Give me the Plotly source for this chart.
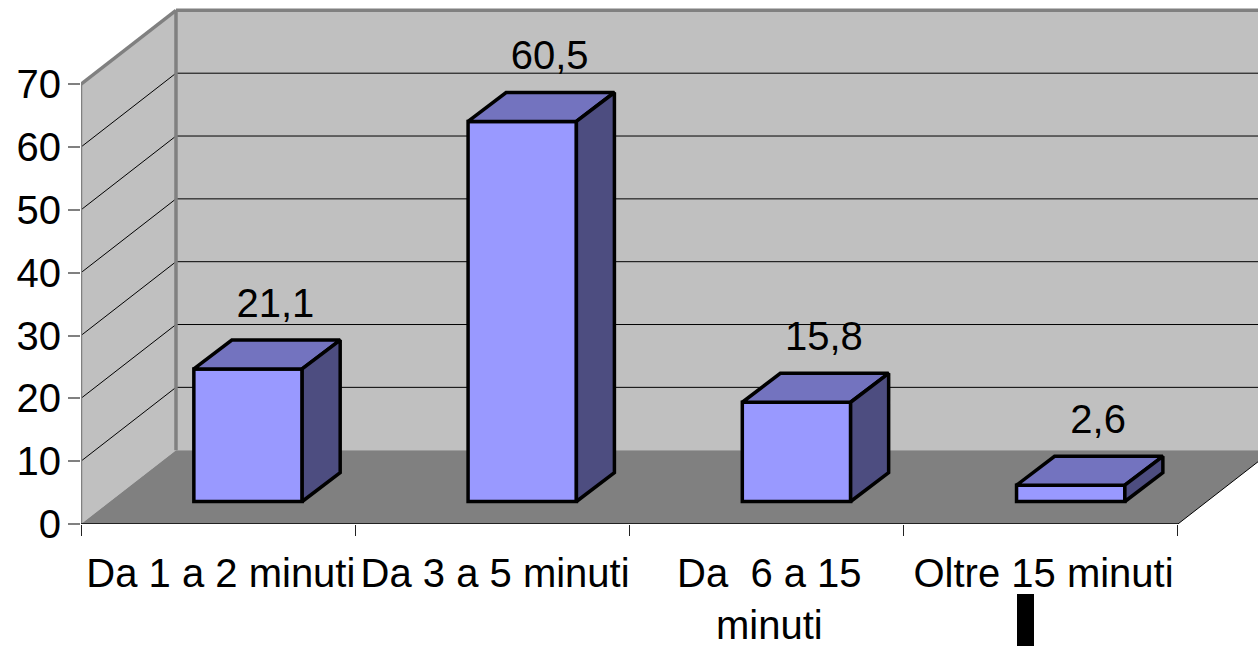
import plotly.graph_objects as go

categories = ["Da 1 a 2 minuti", "Da 3 a 5 minuti", "Da\u00a0 6 a 15<br>minuti", "Oltre 15 minuti"]
values = [21.1, 60.5, 15.8, 2.6]
value_labels = ["21,1", "60,5", "15,8", "2,6"]
y_ticks = [0, 10, 20, 30, 40, 50, 60, 70]

# oblique projection, in axis units
WALL_DX, WALL_DY = 0.3464, 11.75
BAR_DX, BAR_DY = 0.1386, 4.6
BAR_LIFT = 3.58
BAR_SHIFT = 0.609
BAR_W = 0.395
LABEL_DX, LABEL_DY = 0.10, 9.9
FONT = dict(family="Liberation Sans, Arial, sans-serif", size=40, color="black")
WALL, FLOOR, EDGE = "#c0c0c0", "#808080", "#808080"
FRONT, TOP, SIDE = "#9999ff", "#7373bf", "#4d4d80"
n = len(categories)
ymax_back = max(y_ticks)
x_max, y_max = 4.292, 83.4


def poly(pts, fill, line="rgba(0,0,0,0)", width=0):
    path = "M " + " L ".join(f"{x},{y}" for x, y in pts) + " Z"
    return dict(type="path", path=path, xref="x", yref="y", layer="below",
                fillcolor=fill, line=dict(color=line, width=width))


def seg(x0, y0, x1, y1, color, width, layer="below"):
    return dict(type="line", x0=x0, y0=y0, x1=x1, y1=y1, xref="x", yref="y",
                layer=layer, line=dict(color=color, width=width))


shapes = [
    poly([(WALL_DX, WALL_DY), (n + WALL_DX, WALL_DY), (n + WALL_DX, ymax_back + WALL_DY), (WALL_DX, ymax_back + WALL_DY)], WALL),
    poly([(0, 0), (WALL_DX, WALL_DY), (WALL_DX, ymax_back + WALL_DY), (0, ymax_back)], WALL),
    poly([(0, 0), (WALL_DX, WALL_DY), (n + WALL_DX, WALL_DY), (n, 0)], FLOOR),
]
for t in y_ticks[1:-1]:
    shapes.append(seg(0, t, WALL_DX, t + WALL_DY, "black", 1))
    shapes.append(seg(WALL_DX, t + WALL_DY, n + WALL_DX, t + WALL_DY, "black", 1))
shapes += [
    seg(0, ymax_back, WALL_DX, ymax_back + WALL_DY, EDGE, 3.5),
    seg(WALL_DX, ymax_back + WALL_DY, n + WALL_DX, ymax_back + WALL_DY, EDGE, 3.5),
    seg(WALL_DX, WALL_DY, WALL_DX, ymax_back + WALL_DY, EDGE, 3.5),
    seg(0, 0, 0, ymax_back, EDGE, 2.5, "above"),
    seg(n, 0, n + WALL_DX, WALL_DY, "black", 1),
    seg(0, 0, n, 0, "#222222", 2, "above"),
    # the black mark under the last label
    dict(type="rect", xref="paper", yref="paper", x0=(1017 - 81) / 1177, x1=(1034 - 81) / 1177,
         y0=(524 - 660) / 524, y1=(524 - 594) / 524, fillcolor="black", line=dict(width=0), layer="above"),
]

fig = go.Figure()
x_bar = [i + BAR_SHIFT for i in range(n)]
fig.add_bar(x=x_bar, y=values, base=[BAR_LIFT] * n, width=BAR_W,
            marker=dict(color=FRONT, line=dict(color="black", width=3.5)), hoverinfo="skip")

for xc, v in zip(x_bar, values):
    x0, x1 = xc - BAR_W / 2, xc + BAR_W / 2
    y0, y1 = BAR_LIFT, BAR_LIFT + v
    fig.add_scatter(x=[x0, x0 + BAR_DX, x1 + BAR_DX, x1, x0], y=[y1, y1 + BAR_DY, y1 + BAR_DY, y1, y1],
                    mode="lines", fill="toself", fillcolor=TOP,
                    line=dict(color="black", width=3.5), hoverinfo="skip")
    fig.add_scatter(x=[x1, x1 + BAR_DX, x1 + BAR_DX, x1, x1], y=[y0, y0 + BAR_DY, y1 + BAR_DY, y1, y0],
                    mode="lines", fill="toself", fillcolor=SIDE,
                    line=dict(color="black", width=3.5), hoverinfo="skip")

fig.add_scatter(x=[xc + LABEL_DX for xc in x_bar],
                y=[v + BAR_LIFT + LABEL_DY for v in values],
                mode="text", text=value_labels, textfont=FONT, textposition="middle center",
                hoverinfo="skip")

fig.update_layout(
    width=1258, height=646, showlegend=False, plot_bgcolor="white", paper_bgcolor="white",
    margin=dict(l=81, r=0, t=0, b=122, autoexpand=False), shapes=shapes, font=FONT,
)
fig.update_xaxes(
    range=[0, x_max], tickmode="array", tickvals=[i + 0.51 for i in range(n)], ticktext=categories,
    ticks="outside", ticklen=14, tickcolor="rgba(0,0,0,0)", showgrid=False, zeroline=False, showline=False,
    tickfont=FONT, automargin=False,
    minor=dict(tickmode="array", tickvals=list(range(n + 1)), ticks="outside", ticklen=11,
               tickcolor="#222222", tickwidth=1, showgrid=False),
)
fig.update_yaxes(
    range=[0, y_max], tickmode="array", tickvals=y_ticks, ticks="outside", ticklen=12, tickwidth=2,
    tickcolor=EDGE, showgrid=False, zeroline=False, showline=False,
    tickfont=FONT, ticklabelstandoff=-1, automargin=False,
)
fig.write_html("out.html", config=dict(displayModeBar=False),
               post_script="document.body.style.margin='0';document.body.style.overflow='hidden';")
